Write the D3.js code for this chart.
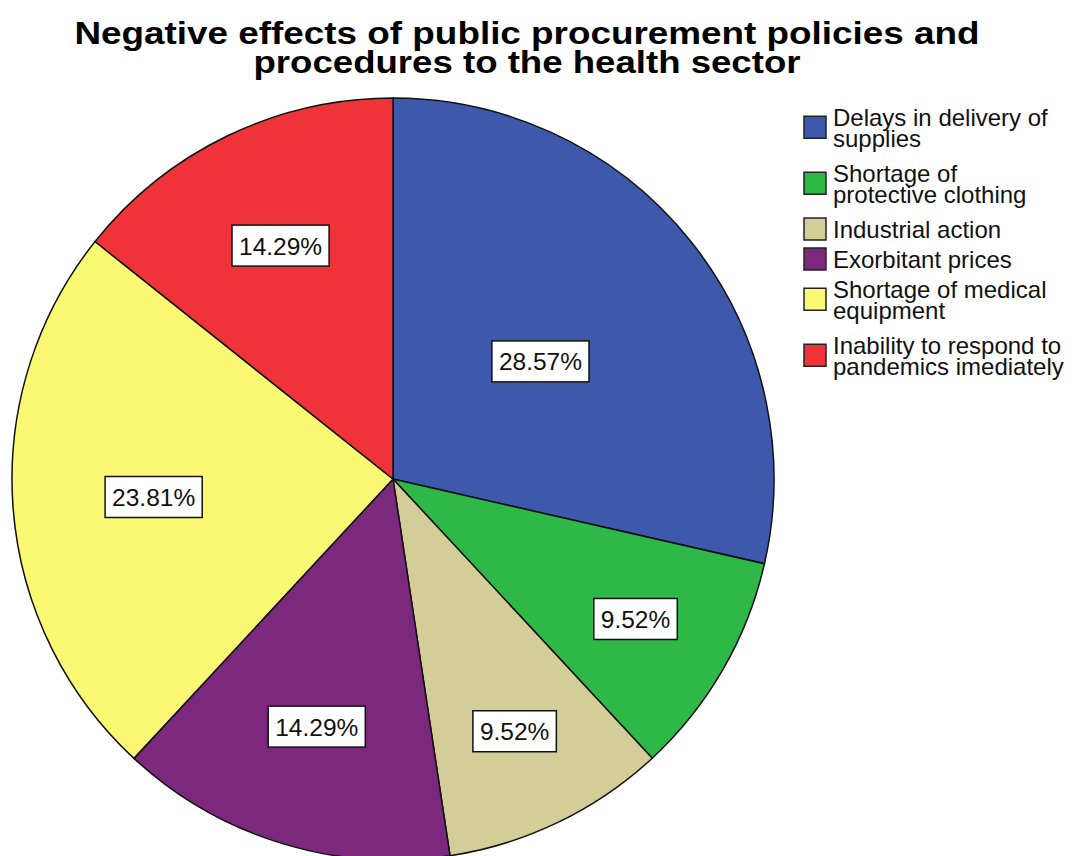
<!DOCTYPE html>
<html>
<head>
<meta charset="utf-8">
<script src="https://cdn.jsdelivr.net/npm/d3@7"></script>
<style>
  html, body { margin: 0; padding: 0; background: #fff; }
  svg { display: block; font-family: Arial, "Liberation Sans", sans-serif; }
</style>
</head>
<body>
<svg id="chart" width="1075" height="856"></svg>
<script>
// ---- data ----
const titleLines = ["Negative effects of public procurement policies and", "procedures to the health sector"];
const categories = [
  "Delays in delivery of supplies",
  "Shortage of protective clothing",
  "Industrial action",
  "Exorbitant prices",
  "Shortage of medical equipment",
  "Inability to respond to pandemics imediately"
];
const legendLines = [
  ["Delays in delivery of", "supplies"],
  ["Shortage of", "protective clothing"],
  ["Industrial action"],
  ["Exorbitant prices"],
  ["Shortage of medical", "equipment"],
  ["Inability to respond to", "pandemics imediately"]
];
const percents = [28.57, 9.52, 9.52, 14.29, 23.81, 14.29];
const colors = ["#3E58AC", "#2EB848", "#D3CE97", "#7C287D", "#FBF873", "#EF3338"];

// ---- layout ----
const W = 1075, H = 856;
const cx = 393, cy = 479, R = 381;
const svg = d3.select("#chart");

// Title
const titleWidths = [905, 547];
svg.selectAll("text.title").data(titleLines).join("text")
  .attr("class", "title")
  .attr("x", 527)
  .attr("y", (d, i) => 44 + i * 29)
  .attr("text-anchor", "middle")
  .attr("font-size", 32)
  .attr("font-weight", "bold")
  .attr("fill", "#000")
  .attr("textLength", (d, i) => titleWidths[i])
  .attr("lengthAdjust", "spacingAndGlyphs")
  .text(d => d);

// Pie
const pie = d3.pie().sort(null).value(d => d);
const arcs = pie(percents);
const arc = d3.arc().innerRadius(0).outerRadius(R);
const g = svg.append("g").attr("transform", `translate(${cx},${cy})`);

g.selectAll("path.slice").data(arcs).join("path")
  .attr("class", "slice")
  .attr("d", arc)
  .attr("fill", (d, i) => colors[i])
  .attr("stroke", "#111")
  .attr("stroke-width", 1.5)
  .attr("stroke-linejoin", "round");

// Labels: radial position depends on the slice share
const total = d3.sum(percents);
const labelRadius = d3.scaleLinear()
  .domain([0.0952, 0.1429, 0.2381, 0.2857])
  .range([0.735, 0.68, 0.63, 0.495])
  .clamp(true);

const labels = g.selectAll("g.lab").data(arcs).join("g")
  .attr("class", "lab")
  .attr("transform", d => {
    const mid = (d.startAngle + d.endAngle) / 2;
    const r = R * labelRadius(d.value / total);
    return `translate(${r * Math.sin(mid)},${-r * Math.cos(mid)})`;
  });

labels.append("rect");
labels.append("text")
  .attr("text-anchor", "middle")
  .attr("y", 9)
  .attr("font-size", 24.5)
  .attr("fill", "#111")
  .text(d => d3.format(".2f")(d.value) + "%");

labels.each(function() {
  const t = d3.select(this).select("text").node();
  const w = t.getComputedTextLength() + 14;
  d3.select(this).select("rect")
    .attr("x", -w / 2).attr("y", -20.5)
    .attr("width", w).attr("height", 41)
    .attr("fill", "#fff")
    .attr("stroke", "#111")
    .attr("stroke-width", 1.5);
});

// Legend
const lineH = 20.5;
let base = 126;
const legendPos = legendLines.map(lines => {
  const b = base;
  base += lines.length === 2 ? 56 : 30;
  return b;
});

const leg = svg.append("g");
const items = leg.selectAll("g.item").data(categories).join("g").attr("class", "item");
items.append("rect")
  .attr("x", 804)
  .attr("y", (d, i) => legendPos[i] - 9 + (legendLines[i].length - 1) * lineH / 2 - 11)
  .attr("width", 22).attr("height", 22)
  .attr("fill", (d, i) => colors[i])
  .attr("stroke", "#222")
  .attr("stroke-width", 1.5);
items.append("text")
  .attr("font-size", 24)
  .attr("fill", "#111")
  .each(function(d, i) {
    d3.select(this).selectAll("tspan").data(legendLines[i]).join("tspan")
      .attr("x", 833)
      .attr("y", (l, j) => legendPos[i] + j * lineH)
      .text(l => l);
  });
</script>
</body>
</html>
